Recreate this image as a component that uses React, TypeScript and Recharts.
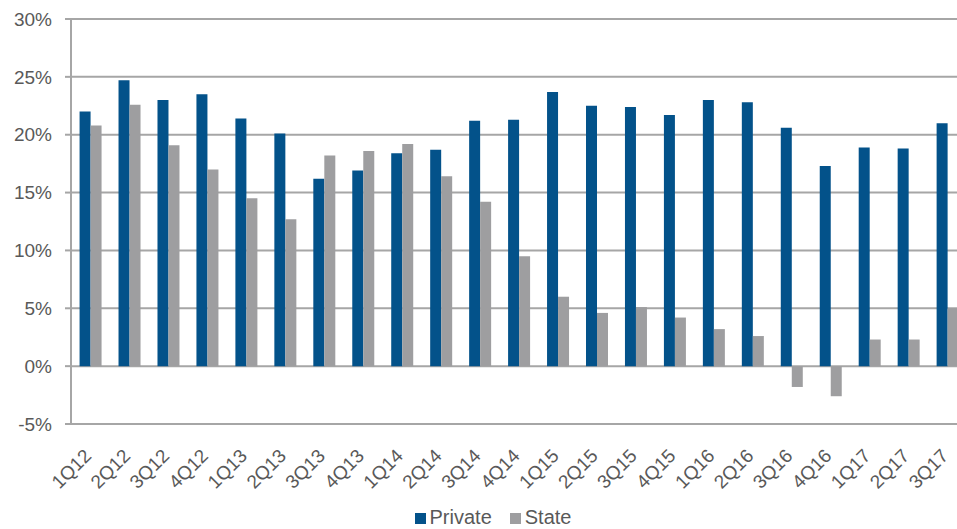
import React from "react";
import { BarChart, Bar, XAxis, YAxis, CartesianGrid, Legend } from "recharts";

// quarterly growth, %
const quarters = [
  "1Q12", "2Q12", "3Q12", "4Q12", "1Q13", "2Q13", "3Q13", "4Q13",
  "1Q14", "2Q14", "3Q14", "4Q14", "1Q15", "2Q15", "3Q15", "4Q15",
  "1Q16", "2Q16", "3Q16", "4Q16", "1Q17", "2Q17", "3Q17",
];
const privateGrowth = [
  22.0, 24.7, 23.0, 23.5, 21.4, 20.1, 16.2, 16.9,
  18.4, 18.7, 21.2, 21.3, 23.7, 22.5, 22.4, 21.7,
  23.0, 22.8, 20.6, 17.3, 18.9, 18.8, 21.0,
];
const stateGrowth = [
  20.8, 22.6, 19.1, 17.0, 14.5, 12.7, 18.2, 18.6,
  19.2, 16.4, 14.2, 9.5, 6.0, 4.6, 5.1, 4.2,
  3.2, 2.6, -1.8, -2.6, 2.3, 2.3, 5.0,
];
const yTicks = [-5, 0, 5, 10, 15, 20, 25, 30];

const data = quarters.map((q, i) => ({
  q,
  Private: privateGrowth[i],
  State: stateGrowth[i],
}));

const FONT = "'Liberation Sans', Arial, sans-serif";
const TEXT = "#595959";
const GRID = "#a6a6a6";
const BLUE = "#03528a";
const GREY = "#9e9ea0";

const QuarterTick = ({ x, y, payload }: any) => (
  <g transform={`translate(${x + 2},${y + 25})`}>
    <text textAnchor="end" transform="rotate(-45)" fill={TEXT} fontSize={19} fontFamily={FONT}>
      {payload.value}
    </text>
  </g>
);

const LegendBox = () => (
  <div
    style={{
      height: 24,
      display: "flex",
      justifyContent: "center",
      alignItems: "center",
      fontFamily: FONT,
      fontSize: 20,
      color: TEXT,
    }}
  >
    {[
      ["Private", BLUE],
      ["State", GREY],
    ].map(([name, color]) => (
      <span key={name} style={{ display: "flex", alignItems: "center", marginRight: 18 }}>
        <span style={{ width: 11, height: 11, background: color, marginRight: 4, marginTop: 2 }} />
        {name}
      </span>
    ))}
  </div>
);

export default function App() {
  return (
    <div style={{ position: "absolute", left: 0, top: 0, width: 957, height: 529, overflow: "hidden", background: "#fff" }}>
      <BarChart
        width={980}
        height={529}
        data={data}
        margin={{ top: 19, right: 13, left: 1, bottom: 0 }}
        barCategoryGap="22%"
        barGap={0}
      >
        <CartesianGrid vertical={false} stroke={GRID} strokeWidth={2} />
        <XAxis dataKey="q" axisLine={false} tickLine={false} interval={0} height={81} tick={<QuarterTick />} />
        <YAxis
          width={70}
          domain={[-5, 30]}
          ticks={yTicks}
          interval={0}
          tickFormatter={(v: number) => `${v}%`}
          axisLine={{ stroke: GRID, strokeWidth: 2 }}
          tickLine={{ stroke: GRID, strokeWidth: 2 }}
          tickSize={6}
          tickMargin={13}
          tick={{ fill: TEXT, fontSize: 19, fontFamily: FONT }}
        />
        <Legend
          verticalAlign="bottom"
          content={<LegendBox />}
          wrapperStyle={{ left: 0, width: 1004 }}
        />
        <Bar dataKey="Private" fill={BLUE} isAnimationActive={false} />
        <Bar dataKey="State" fill={GREY} isAnimationActive={false} />
      </BarChart>
    </div>
  );
}
